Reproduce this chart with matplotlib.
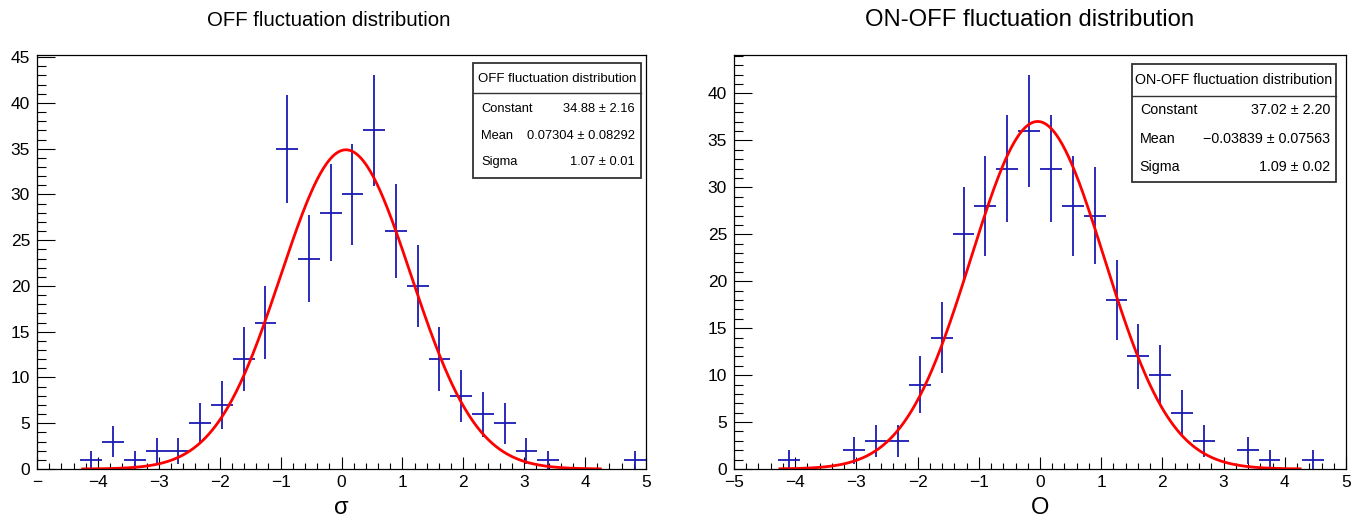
import numpy as np
import matplotlib
matplotlib.use("Agg")
import matplotlib.pyplot as plt
from matplotlib.patches import Rectangle
from matplotlib.ticker import MultipleLocator, FixedLocator

# ===================================
# Data
# ===================================

bin_edges = np.linspace(-5, 5, 29)

off_counts = [0, 0, 1, 3, 1, 2, 2, 5, 7, 12, 16, 35, 23, 28, 30,
              37, 26, 20, 12, 8, 6, 5, 2, 1, 0, 0, 0, 1]
onoff_counts = [0, 0, 1, 0, 0, 2, 3, 3, 9, 14, 25, 28, 32, 36, 32,
                28, 27, 18, 12, 10, 6, 3, 0, 2, 1, 0, 1, 0]

# fit results (Constant, Mean, Sigma) with errors
off_fit = [34.88, 0.07304, 1.07]
off_err = [2.16, 0.08292, 0.01]
onoff_fit = [37.02, -0.03839, 1.09]
onoff_err = [2.20, 0.07563, 0.02]

fit_range = (-4.25, 4.25)

titles = ["OFF fluctuation distribution", "ON-OFF fluctuation distribution"]
xlabels = ["σ", "O"]

plt.rcParams["font.family"] = ["Liberation Sans", "DejaVu Sans"]
plt.rcParams["axes.unicode_minus"] = True

# ===================================
# Figure
# ===================================

W, H = 1353, 521
fig = plt.figure(figsize=(W / 100, H / 100), dpi=100)

ax_off = fig.add_axes([37 / W, 1 - 469 / H, 609 / W, 414 / H])
ax_on = fig.add_axes([734 / W, 1 - 469 / H, 612 / W, 414 / H])


def fmt_val(v, e, nd):
    s = f"{v:.{nd}f}".replace("-", "\u2212")
    return f"{s} ± {e:.{nd}f}"


def draw_panel(ax, counts, fit, err, title, xlabel, xlab_size,
               box, head_size, row_size, digits):
    counts = np.array(counts, dtype=float)
    centers = 0.5 * (bin_edges[:-1] + bin_edges[1:])
    width = bin_edges[1] - bin_edges[0]
    nz = counts > 0

    ax.errorbar(
        centers[nz], counts[nz],
        xerr=width / 2, yerr=np.sqrt(counts[nz]),
        fmt="none", ecolor="#1a1ab4", elinewidth=1.3, capsize=0
    )

    xs = np.linspace(fit_range[0], fit_range[1], 500)
    ys = fit[0] * np.exp(-0.5 * ((xs - fit[1]) / fit[2]) ** 2)
    ax.plot(xs, ys, color="#ff0000", lw=2)

    ymax = (counts.max() + np.sqrt(counts.max())) * 1.05
    ax.set_xlim(-5, 5)
    ax.set_ylim(0, ymax)

    ax.xaxis.set_major_locator(MultipleLocator(1))
    ax.xaxis.set_minor_locator(MultipleLocator(0.2))
    ax.yaxis.set_major_locator(MultipleLocator(5))
    ax.yaxis.set_minor_locator(MultipleLocator(1))

    ax.tick_params(axis="x", which="major", direction="in", length=8.6,
                   width=0.8, labelsize=12.5, pad=4)
    ax.tick_params(axis="x", which="minor", direction="in", length=4.3,
                   width=0.8)
    ax.tick_params(axis="y", which="major", direction="in", length=13,
                   width=0.8, labelsize=12.5, pad=5)
    ax.tick_params(axis="y", which="minor", direction="in", length=6.5,
                   width=0.8)

    for sp in ax.spines.values():
        sp.set_linewidth(0.9)

    ax.set_xlabel(xlabel, fontsize=xlab_size, labelpad=5)

    # stats box
    x0, x1, y0, y1, ysep, yhead, rows = box
    ax.add_patch(Rectangle((x0, y0), x1 - x0, y1 - y0, transform=ax.transAxes,
                           fill=True, facecolor="white", edgecolor="#333333",
                           lw=1.3, zorder=5))
    ax.plot([x0, x1], [ysep, ysep], transform=ax.transAxes,
            color="#333333", lw=1.0, zorder=6)
    tl = x0 + 0.013
    tr = x1 - 0.01
    ax.text((x0 + x1) / 2, yhead, title, transform=ax.transAxes,
            ha="center", va="center", fontsize=head_size, zorder=7)
    names = ["Constant", "Mean", "Sigma"]
    for i in range(3):
        ax.text(tl, rows[i], names[i], transform=ax.transAxes,
                ha="left", va="center", fontsize=row_size, zorder=7)
        ax.text(tr, rows[i], fmt_val(fit[i], err[i], digits[i]),
                transform=ax.transAxes, ha="right", va="center",
                fontsize=row_size, zorder=7)


draw_panel(
    ax_off, off_counts, off_fit, off_err, titles[0], xlabels[0], 17,
    (0.716, 0.992, 0.703, 0.981, 0.908, 0.943, [0.870, 0.804, 0.742]),
    9.5, 9.3, [2, 5, 2]
)
draw_panel(
    ax_on, onoff_counts, onoff_fit, onoff_err, titles[1], xlabels[1], 17,
    (0.650, 0.984, 0.693, 0.978, 0.901, 0.940, [0.867, 0.797, 0.729]),
    10.3, 10.3, [2, 5, 2]
)

# pad titles (centred on the pads, not on the frames)
fig.text(329 / W, 1 - 20 / H, titles[0], ha="center", va="center", fontsize=14.7)
fig.text(1030 / W, 1 - 20 / H, titles[1], ha="center", va="center", fontsize=17.2)

# left panel shows only the dash of the -5 label
ticks = list(range(-5, 6))
ax_off.xaxis.set_major_locator(FixedLocator(ticks))
ax_off.set_xticklabels(["\u2212"] + [str(t).replace("-", "\u2212") for t in ticks[1:]])

plt.savefig("out.png", dpi=100)
